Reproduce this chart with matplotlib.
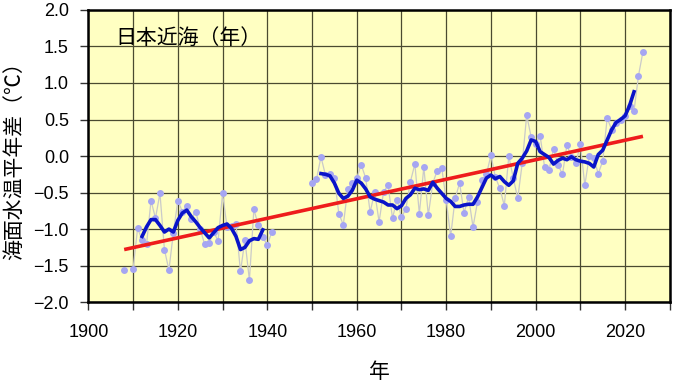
import matplotlib
matplotlib.use('Agg')
import matplotlib.pyplot as plt
import numpy as np

plt.rcParams['font.family'] = ['Liberation Sans', 'Noto Sans CJK JP', 'DejaVu Sans']

# annual anomaly (deg C), None = no data
years = np.arange(1908, 2025)
anomaly = [
    -1.56, None, -1.54, -0.99, -1.15, -1.21, -0.61, -0.85, -0.51, -1.28,   # 1908-1917
    -1.56, -1.05, -0.61, -0.76, -0.69, -0.86, -0.76, -1.00, -1.21, -1.19,  # 1918-1927
    -1.04, -1.16, -0.51, -0.97, -0.96, -0.93, -1.58, -1.15, -1.70, -0.73,  # 1928-1937
    -0.95, -1.11, -1.22, -1.04, None, None, None, None, None, None,        # 1938-1947
    None, None, -0.37, -0.32, -0.01, -0.26, -0.24, -0.30, -0.79, -0.94,    # 1948-1957
    -0.45, -0.37, -0.30, -0.12, -0.30, -0.77, -0.49, -0.90, -0.49, -0.40,  # 1958-1967
    -0.85, -0.60, -0.84, -0.72, -0.35, -0.11, -0.79, -0.15, -0.81, -0.37,  # 1968-1977
    -0.20, -0.16, -0.60, -1.10, -0.58, -0.37, -0.78, -0.56, -0.97, -0.63,  # 1978-1987
    -0.33, -0.25, 0.01, -0.29, -0.44, -0.68, 0.00, -0.30, -0.58, -0.10,    # 1988-1997
    0.56, 0.26, 0.17, 0.28, -0.15, -0.19, 0.10, -0.12, -0.25, 0.15,        # 1998-2007
    -0.01, -0.10, 0.16, -0.40, 0.00, -0.03, -0.24, -0.07, 0.52, 0.36,      # 2008-2017
    0.45, 0.50, 0.55, 0.68, 0.62, 1.10, 1.43,                              # 2018-2024
]
anomaly = np.array([np.nan if v is None else v for v in anomaly])

# 5-year running mean
smooth_years1 = np.arange(1912, 1940)
smooth1 = [-1.10, -0.97, -0.87, -0.87, -0.95, -1.04, -1.00, -1.04, -0.88, -0.78,
           -0.74, -0.83, -0.90, -0.98, -1.05, -1.12, -1.05, -0.98, -0.95, -0.93,
           -0.99, -1.10, -1.28, -1.25, -1.16, -1.13, -1.14, -1.01]
smooth_years2 = np.arange(1952, 2023)
smooth2 = [-0.24, -0.25, -0.27, -0.37, -0.51, -0.58, -0.55, -0.47, -0.33, -0.37,
           -0.45, -0.56, -0.59, -0.61, -0.63, -0.67, -0.67, -0.72, -0.68, -0.58,
           -0.53, -0.44, -0.46, -0.45, -0.47, -0.36, -0.44, -0.51, -0.58, -0.62,
           -0.69, -0.69, -0.67, -0.66, -0.66, -0.56, -0.43, -0.30, -0.26, -0.31,
           -0.28, -0.35, -0.40, -0.34, -0.10, -0.03, 0.07, 0.22, 0.20, 0.06,
           0.02, -0.02, -0.11, -0.06, -0.03, -0.05, -0.01, -0.05, -0.07, -0.08,
           -0.10, -0.15, 0.02, 0.08, 0.22, 0.36, 0.46, 0.50, 0.55, 0.69, 0.88]

# long-term linear trend, endpoints
trend_years = [1908, 2024]
trend_vals = [-1.28, 0.27]

cjk = ['Noto Sans CJK JP', 'DejaVu Sans']

fig = plt.figure(figsize=(6.8, 3.82), dpi=100)
ax = fig.add_axes([0.130, 0.209, 0.855, 0.765])
ax.set_facecolor('#ffffc2')

ax.plot(years, anomaly, color='#cacaca', lw=0.9, zorder=2)
ax.plot(years, anomaly, linestyle='None', marker='o', ms=5, color='#a6a6f2',
        mec='none', zorder=3)
ax.plot(trend_years, trend_vals, color='#ee1c1c', lw=2.6, zorder=4,
        solid_capstyle='butt')
ax.plot(smooth_years1, smooth1, color='#0a14c8', lw=2.6, zorder=5)
ax.plot(smooth_years2, smooth2, color='#0a14c8', lw=2.6, zorder=5)

ax.set_xlim(1900, 2030)
ax.set_ylim(-2.0, 2.0)
ax.set_xticks(np.arange(1900, 2031, 20))
ax.set_xticks(np.arange(1900, 2031, 10), minor=True)
ax.set_yticks(np.arange(-2.0, 2.01, 0.5))
ax.set_yticklabels([f'{v:.1f}'.replace('-', '\u2212') for v in np.arange(-2.0, 2.01, 0.5)])
ax.grid(True, which='both', color='#4a4a30', lw=0.9, zorder=1)
ax.set_axisbelow(True)
ax.tick_params(axis='both', which='both', direction='out', length=6, width=1,
               labelsize=13, color='#333333')
ax.tick_params(axis='y', pad=8)
ax.tick_params(axis='x', pad=10)
for s in ax.spines.values():
    s.set_linewidth(1.8)
    s.set_zorder(6)

ax.text(0.046, 0.904, '日本近海（年）', transform=ax.transAxes, fontsize=15,
        ha='left', va='center', family=cjk)
ax.set_xlabel('年', fontsize=15, labelpad=14, family=cjk)
ax.set_ylabel('海面水温平年差（℃）', fontsize=15, labelpad=6, family=cjk)

fig.savefig('out.png', dpi=100)
